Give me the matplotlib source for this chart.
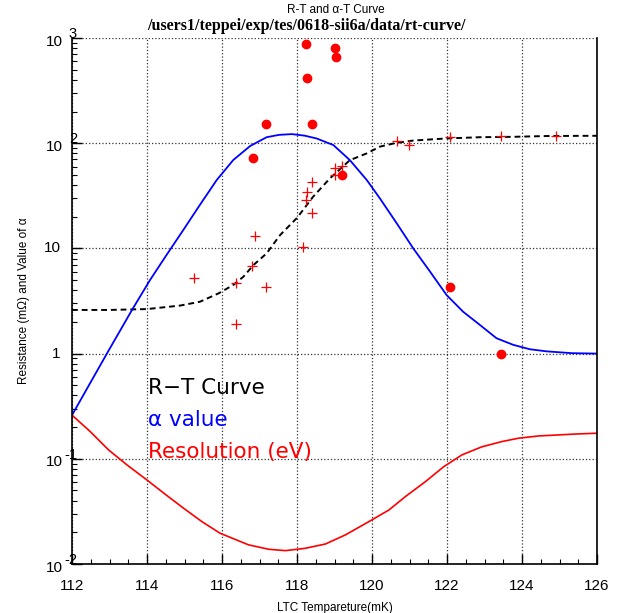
import matplotlib

matplotlib.use("Agg")
import matplotlib.pyplot as plt
from matplotlib.ticker import LogLocator, MultipleLocator, NullFormatter

# measured points (filled circles)
dot_t = [118.24, 119.02, 119.04, 118.27, 117.16, 118.40, 116.82, 119.21, 122.09, 123.44]
dot_v = [870, 809, 656, 417, 151, 151, 72.8, 50, 4.27, 1.0]

# R-T points (crosses)
cross_t = [119.02, 119.21, 119.02, 118.40, 118.27, 118.24, 118.39, 116.88, 118.16,
           116.81, 115.26, 116.37, 117.17, 116.38, 120.67, 120.98, 122.09, 123.44, 124.90]
cross_v = [57.7, 61, 49.9, 42.5, 34.6, 28.8, 21.7, 13.2, 10.4,
           6.8, 5.27, 4.66, 4.27, 1.9, 105, 95.4, 113.8, 117, 117.8]

# R-T curve (dashed)
rt_t = [112.0, 113.0, 114.0, 114.88, 115.41, 115.91, 116.30, 116.57, 116.84, 117.19,
        117.55, 118.0, 118.43, 118.88, 119.41, 119.86, 120.21, 120.66, 121.1, 121.99,
        122.88, 123.77, 124.66, 125.55, 126.0]
rt_v = [2.6, 2.6, 2.65, 2.86, 3.11, 3.74, 4.49, 5.38, 6.95, 8.97,
        13.4, 19.5, 31, 46.4, 69, 80, 92.7, 101, 106, 111,
        114, 115, 117, 117.5, 117.6]

# alpha curve
al_t = [112.0, 112.93, 113.6, 114.08, 114.52, 114.97, 115.41, 115.86, 116.30, 116.75,
        117.19, 117.52, 117.86, 118.2, 118.52, 118.97, 119.41, 119.86, 120.21, 120.66,
        121.1, 121.55, 121.99, 122.43, 122.88, 123.32, 123.77, 124.21, 124.66, 125.32, 126.0]
al_v = [0.26, 1.0, 2.6, 5.0, 8.65, 15.0, 25.9, 44.7, 69.2, 94,
        114, 120, 122, 118, 111, 96, 69, 44.7, 29.9, 17.3,
        10, 6.0, 3.6, 2.5, 1.87, 1.40, 1.21, 1.10, 1.05, 1.01, 1.0]

# resolution curve
res_t = [112.0, 112.49, 112.98, 113.47, 114.0, 114.49, 114.98, 115.47, 115.95, 116.71,
         117.25, 117.69, 118.22, 118.76, 119.29, 119.91, 120.45, 120.89, 121.42, 121.91,
         122.4, 122.93, 123.47, 123.91, 124.45, 124.89, 125.42, 126.0]
res_v = [0.26, 0.181, 0.121, 0.0873, 0.0628, 0.0459, 0.0338, 0.0252, 0.0196, 0.0152,
         0.0138, 0.0134, 0.0141, 0.0155, 0.0189, 0.0252, 0.0326, 0.0437, 0.0605, 0.084,
         0.109, 0.130, 0.146, 0.157, 0.165, 0.168, 0.172, 0.175]

xticks = [112, 114, 116, 118, 120, 122, 124, 126]
ydecades = [-2, -1, 0, 1, 2, 3]

fig = plt.figure(figsize=(6.18, 6.13), dpi=100)
ax = fig.add_axes([72 / 618, 49 / 613, 525 / 618, 526 / 613])

ax.plot(rt_t, rt_v, "--", color="black", lw=1.4, dashes=(3, 2))
ax.plot(al_t, al_v, "-", color="blue", lw=1.3)
ax.plot(res_t, res_v, "-", color="red", lw=1.2)
ax.plot(dot_t, dot_v, "o", color="red", ms=6, mec="red")
ax.plot(cross_t, cross_v, "+", color="red", ms=7, mew=0.9)

ax.set_yscale("log")
ax.set_xlim(112, 126)
ax.set_ylim(1e-2, 1e3)

ax.xaxis.set_major_locator(MultipleLocator(2))
ax.xaxis.set_minor_locator(MultipleLocator(0.5))
ax.yaxis.set_major_locator(LogLocator(base=10, numticks=10))
ax.yaxis.set_minor_locator(LogLocator(base=10, subs=range(2, 10), numticks=20))
ax.yaxis.set_major_formatter(NullFormatter())
ax.yaxis.set_minor_formatter(NullFormatter())
ax.tick_params(which="both", direction="in", top=False, right=False)
ax.tick_params(which="major", length=7, width=1)
ax.tick_params(which="minor", length=3.5, width=0.8)
ax.set_xticks(xticks)
ax.set_xticklabels([str(t) for t in xticks], fontsize=11, family="Liberation Sans")
ax.tick_params(axis="x", pad=11)

ax.grid(True, which="major", ls=":", color="black", lw=0.9, alpha=0.8)
ax.spines["top"].set_visible(False)
for s in ["left", "bottom", "right"]:
    ax.spines[s].set_linewidth(1.2)

# ROOT-style decade labels: "10" plus a raised exponent
trans = ax.get_yaxis_transform()
for d in ydecades:
    if d == 0:
        ax.text(-0.022, 10.0 ** d, "1", transform=trans, ha="right", va="center",
                fontsize=11, family="Liberation Sans")
    elif d == 1:
        ax.text(-0.022, 10.0 ** d, "10", transform=trans, ha="right", va="center",
                fontsize=11, family="Liberation Sans")
    else:
        ax.text(-0.017, 10.0 ** (d - 0.035), "10", transform=trans, ha="right", va="center",
                fontsize=11, family="Liberation Sans", zorder=5)
        ax.text(0.0095, 10.0 ** d, str(d), transform=trans, ha="right", va="baseline",
                fontsize=10.5, family="Liberation Sans", zorder=5, clip_on=False)

ax.set_xlabel("LTC Tempareture(mK)", fontsize=8.5, family="Liberation Sans", labelpad=6)
ax.set_ylabel("Resistance (m\u03a9) and Value of \u03b1", fontsize=8.5,
              family="Liberation Sans", labelpad=27)

fig.text(336 / 618, 1 - 10 / 613, "R-T and \u03b1-T Curve", ha="center", va="center",
         fontsize=8.5, family="Liberation Sans")
fig.text(306 / 618, 1 - 26 / 613, "/users1/teppei/exp/tes/0618-sii6a/data/rt-curve/",
         ha="center", va="center", fontsize=11.5, family="Liberation Serif", weight="bold")

leg_x = (148 - 72) / 525
ax.text(leg_x, 1 - (388 - 38) / 526, "R\u2212T Curve", transform=ax.transAxes,
        color="black", fontsize=15.5, va="center", ha="left")
ax.text(leg_x, 1 - (420 - 38) / 526, "\u03b1 value", transform=ax.transAxes,
        color="blue", fontsize=15.5, va="center", ha="left")
ax.text(leg_x, 1 - (452 - 38) / 526, "Resolution (eV)", transform=ax.transAxes,
        color="red", fontsize=15.5, va="center", ha="left")

fig.savefig("out.png", dpi=100)
